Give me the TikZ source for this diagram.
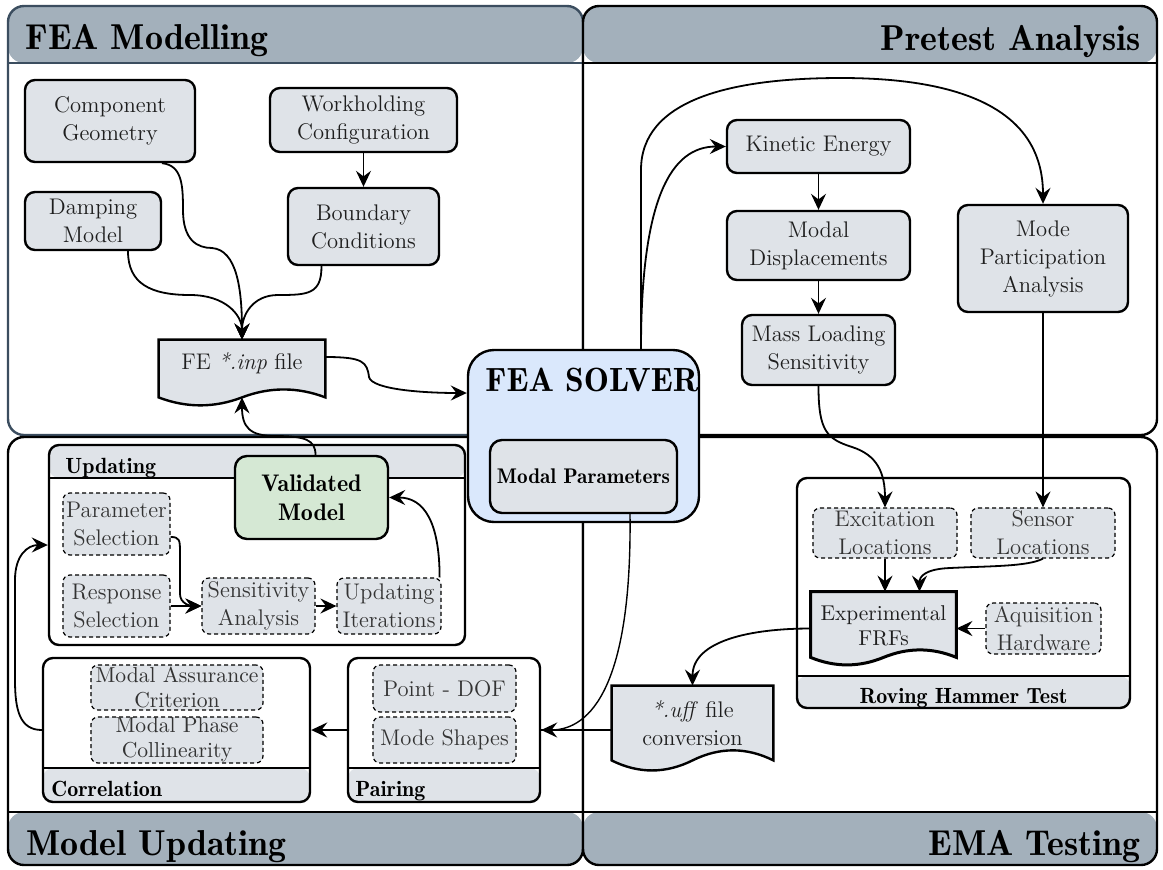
\documentclass[tikz,border=0pt]{standalone}
\usetikzlibrary{arrows.meta,calc}
\definecolor{hdrcol}{HTML}{A3B0BB}
\definecolor{ngray}{HTML}{DFE3E8}
\definecolor{sblue}{HTML}{DAE8FC}
\definecolor{vgreen}{HTML}{D5E8D4}
\definecolor{slate}{HTML}{3B4D5F}
\definecolor{ntext}{HTML}{1E1E1E}
\newcommand\nfnt{\fontsize{11.3}{14}\selectfont}
\newcommand\sfnt{\fontsize{10.8}{12.5}\selectfont}
\newcommand\tfnt{\fontsize{18}{21}\fontseries{b}\selectfont}
\newcommand\lfnt{\fontsize{11}{13}\fontseries{b}\selectfont}
\newcommand\docout[3]{%
  \path (#1.south west) coordinate (#1-L) (#1.south east) coordinate (#1-R) (#1.south) coordinate (#1-M);
  \draw[#3] (#1.north west) -- (#1.north east) -- (#1-R)
    .. controls ($(#1-R)!1/3!(#1-M)+(0pt,#2)$) and ($(#1-R)!2/3!(#1-M)+(0pt,#2)$) .. (#1-M)
    .. controls ($(#1-M)!1/3!(#1-L)+(0pt,-#2)$) and ($(#1-M)!2/3!(#1-L)+(0pt,-#2)$) .. (#1-L) -- cycle;}
\tikzset{
  quad/.style={draw, line width=1.2pt, rounded corners=8pt, fill=white, inner sep=0pt},
  topband/.style n args={3}{path picture={
    \fill[#2] (path picture bounding box.north west) rectangle ([yshift=-#1]path picture bounding box.north east);
    \draw[#3, line width=1.2pt] ([yshift=-#1]path picture bounding box.north west) -- ([yshift=-#1]path picture bounding box.north east);}},
  botband/.style n args={3}{path picture={
    \fill[#2] (path picture bounding box.south west) rectangle ([yshift=#1]path picture bounding box.south east);
    \draw[#3, line width=1.2pt] ([yshift=#1]path picture bounding box.south west) -- ([yshift=#1]path picture bounding box.south east);}},
  sz/.style 2 args={minimum width=#1, minimum height=#2},
  box/.style={draw, line width=1.2pt, fill=ngray, rounded corners=5pt, align=center, inner sep=0pt, font=\nfnt, text=ntext},
  dbox/.style={draw, dash pattern=on 2pt off 1.5pt, line width=0.6pt, fill=ngray, rounded corners=3.5pt, align=center, inner sep=0pt, font=\nfnt, text=black!80},
  cont/.style={draw, line width=1.2pt, rounded corners=5pt, fill=white, inner sep=0pt},
  doc/.style={inner sep=0pt},
  docline/.style={draw=black, fill=ngray, line width=1.2pt},
  doctext/.style={font=\nfnt, text=ntext, align=center, inner sep=0pt},
  conn/.style={line width=0.9pt, -{Stealth[length=8pt,width=7.5pt,inset=2.8pt]}},
  connthin/.style={line width=0.7pt, -{Stealth[length=8pt,width=7.5pt,inset=2.8pt]}},
  thinline/.style={line width=0.7pt},
  ttl/.style={font=\tfnt, inner sep=0pt},
  lbl/.style={font=\lfnt, inner sep=0pt},
}
\begin{document}
\begin{tikzpicture}[x=0.5pt,y=-0.5pt]
\useasboundingbox (0,0) rectangle (1163,869);
\fill[white] (0,0) rectangle (1163,869);

% quadrants
\node[quad, draw=slate, topband={28.5pt}{hdrcol}{slate}, sz={287.5pt}{214.5pt}] (qfea) at (295.5,220.5) {};
\node[quad, topband={28.5pt}{hdrcol}{black}, sz={287pt}{214.5pt}] (qpre) at (870,220.5) {};
\node[quad, botband={26.5pt}{hdrcol}{black}, sz={287.5pt}{214pt}] (qmu) at (295.5,651) {};
\node[quad, botband={26.5pt}{hdrcol}{black}, sz={287pt}{214pt}] (qema) at (870,651) {};
\node[ttl, anchor=base west] (tfea) at (25,49) {FEA Modelling};
\node[ttl, anchor=base east] (tpre) at (1141,50) {Pretest Analysis};
\node[ttl, anchor=base west] (tmu) at (26,855) {Model Updating};
\node[ttl, anchor=base east] (tema) at (1141,855) {EMA Testing};

% solver
\node[draw, line width=1.2pt, fill=sblue, rounded corners=13pt, inner sep=0pt, sz={115.5pt}{86pt}] (solver) at (583.5,436) {};
\node[font=\fontsize{16.8}{19}\fontseries{b}\selectfont, anchor=base west, inner sep=0pt] (solvert) at (485,391) {FEA SOLVER};
\node[box, rounded corners=6pt, sz={93.5pt}{36.5pt}, font=\fontsize{10.6}{12}\fontseries{b}\selectfont, text=black] (mp) at (583.5,476.5) {Modal Parameters};

% FEA modelling
\node[box, sz={85pt}{41pt}] (comp) at (110,121) {Component\\Geometry};
\node[box, sz={93.5pt}{32pt}] (work) at (363.5,120) {Workholding\\Configuration};
\node[box, sz={68pt}{29pt}] (damp) at (93,221) {Damping\\Model};
\node[box, sz={75.5pt}{38.5pt}] (bc) at (363.5,226.5) {Boundary\\Conditions};
\node[doc, sz={83pt}{28.5pt}] (fe) at (242,368.5) {};
\docout{fe}{5.3pt}{docline}
\node[doctext] (fe-t) at ([yshift=2.75pt]fe.center) {FE \textit{*.inp} file};

% pretest
\node[box, sz={91.5pt}{26.5pt}] (ke) at (818.5,146.5) {Kinetic Energy};
\node[box, sz={91.5pt}{34.5pt}] (md) at (818.5,245.5) {Modal\\Displacements};
\node[box, sz={76.5pt}{35pt}] (ml) at (818.5,350) {Mass Loading\\Sensitivity};
\node[box, sz={85pt}{53.5pt}] (mpa) at (1043,258.5) {Mode\\Participation\\Analysis};

% EMA testing
\node[cont, botband={16pt}{ngray}{black}, sz={166.5pt}{115pt}] (rov) at (963.5,593) {};
\node[lbl, anchor=base] (rovl) at (963.5,703) {Roving Hammer Test};
\node[dbox, sz={72pt}{25pt}] (exc) at (885,533) {Excitation\\Locations};
\node[dbox, sz={72pt}{25pt}] (sen) at (1043,533) {Sensor\\Locations};
\node[dbox, sz={57.5pt}{25.5pt}] (aq) at (1043.5,628.5) {Aquisition\\Hardware};
\node[doc, sz={72.5pt}{32.5pt}] (frf) at (883.5,624.5) {};
\docout{frf}{5pt}{docline, line width=1.5pt}
\node[doctext, font=\fontsize{10.7}{12.5}\selectfont] (frf-t) at ([yshift=-0.5pt]frf.center) {Experimental\\FRFs};
\node[doc, sz={80.5pt}{37pt}] (uff) at (692.5,723) {};
\docout{uff}{6.7pt}{docline}
\node[doctext] (uff-t) at (uff.center) {\textit{*.uff} file\\conversion};

% model updating
\node[cont, topband={16.5pt}{ngray}{black}, sz={208pt}{100pt}] (upd) at (257,545) {};
\node[lbl, anchor=base west] (updl) at (65,473) {Updating};
\node[box, fill=vgreen, rounded corners=6pt, sz={76.5pt}{41.5pt}, font=\fontsize{12}{14.5}\fontseries{b}\selectfont, text=black] (val) at (311.5,497.5) {Validated\\Model};
\node[dbox, sz={53.5pt}{31pt}] (ps) at (116.5,524) {Parameter\\Selection};
\node[dbox, sz={53.5pt}{31pt}] (rs) at (116.5,606) {Response\\Selection};
\node[dbox, sz={56.5pt}{28pt}] (sa) at (258.5,606) {Sensitivity\\Analysis};
\node[dbox, sz={52pt}{28pt}] (ui) at (389,606) {Updating\\Iterations};
\node[cont, botband={17pt}{ngray}{black}, sz={133.5pt}{72pt}] (cor) at (176.5,730) {};
\node[lbl, anchor=base west] (corl) at (51,796) {Correlation};
\node[dbox, sz={86pt}{22.5pt}, font=\sfnt] (mac) at (177,687.5) {Modal Assurance\\Criterion};
\node[dbox, sz={86pt}{23pt}, font=\sfnt] (mpc) at (177,740) {Modal Phase\\Collinearity};
\node[cont, botband={17pt}{ngray}{black}, sz={96pt}{72pt}] (pair) at (444,730) {};
\node[lbl, anchor=base west] (pairl) at (355,796) {Pairing};
\node[dbox, sz={71.5pt}{23.5pt}] (pdof) at (444.5,688.5) {Point - DOF};
\node[dbox, sz={71.5pt}{23pt}] (msh) at (444.5,740) {Mode Shapes};

% connectors: FEA modelling
\draw[conn] (work.south) -- (bc.north);
\draw[conn] ([xshift=26pt]comp.south) .. controls +(20,2) and +(0,-25) .. (183,210)
  .. controls +(0,30) and +(-15,0) .. (212,248) .. controls +(25,2) and +(0,-50) .. (fe.north);
\draw[conn] ([xshift=17.5pt]damp.south) .. controls +(0,32) and +(-40,0) .. (190,295)
  .. controls +(35,0) and +(0,-25) .. (fe.north);
\draw[conn] ([xshift=-21pt]bc.south) .. controls +(0,28) and +(30,0) .. (278,295)
  .. controls +(-25,0) and +(0,-25) .. (fe.north);
\draw[conn] ([yshift=5.75pt]fe.east) .. controls +(38,0) and +(-2,-15) .. (369,377)
  .. controls +(3,13) and +(-40,0) .. ([yshift=21.5pt]solver.west);

% connectors: pretest
\draw[conn] ([xshift=28.75pt]solver.north) .. controls +(0,-150) and +(-55,0) .. (ke.west);
\draw[conn] ([xshift=28.75pt]solver.north) -- (641,170) .. controls +(0,-70) and +(-111,0) .. (841,78)
  .. controls +(119,0) and +(0,-95) .. (mpa.north);
\draw[conn] (ke.south) -- (md.north);
\draw[conn] (md.south) -- (ml.north);
\draw[conn] (ml.south) .. controls +(0,45) and +(-25,-8) .. (852,447)
  .. controls +(25,8) and +(0,-35) .. (exc.north);
\draw[connthin] (mpa.south) -- (sen.north);

% connectors: EMA
\draw[conn] (exc.south) -- (exc.south |- frf.north);
\draw[conn] (sen.south) .. controls +(-15,8) and +(40,-2) .. (950,568)
  .. controls +(-25,1) and +(0,-15) .. ([xshift=18pt]frf.north);
\draw[conn] (aq.west) -- (aq.west -| frf.east);
\draw[conn] ([yshift=-2pt]frf.west) .. controls +(-60,0) and +(0,-45) .. (uff.north);
\draw[thinline] ([yshift=-3.5pt]uff.west) -- (pair.east);
\draw[connthin] ([xshift=23.25pt]mp.south) .. controls +(2,170) and +(50,0) .. (pair.east);

% connectors: model updating
\draw[conn] (pair.west) -- (cor.east);
\draw[conn] (cor.west) .. controls +(-22,0) and +(0,30) .. (15,680) -- (15,580)
  .. controls +(0,-25) and +(-20,0) .. (upd.west);
\draw[conn] ([yshift=-6.5pt]ps.east) .. controls +(9,0) and +(0,-12) .. (180,552) -- (180,594)
  .. controls +(0,10) and +(-10,0) .. (sa.west);
\draw[conn] (rs.east) -- (sa.west);
\draw[conn] (sa.east) -- (ui.west);
\draw[conn] ([xshift=-1pt]ui.north east) .. controls +(0,-55) and +(35,0) .. (val.east);
\draw[conn] ([xshift=2pt]val.north) .. controls +(0,-15) and +(30,0) .. (275,436)
  .. controls +(-25,0) and +(0,30) .. (fe.south);
\end{tikzpicture}
\end{document}
